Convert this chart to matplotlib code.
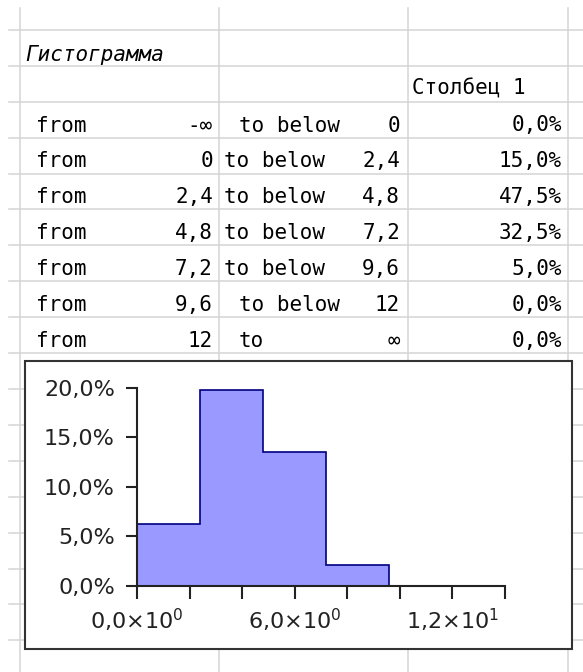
import matplotlib.pyplot as plt
from matplotlib.lines import Line2D
from matplotlib.patches import Rectangle
from matplotlib.ticker import FixedLocator

# - - - - - - - - - - - - - - - - - - - - - - - - - #
# - - - - - - - - - - - Data  - - - - - - - - - - - #
# - - - - - - - - - - - - - - - - - - - - - - - - - #

title = 'Гистограмма'
column_name = 'Столбец 1'

# Bin bounds as written in the table
bin_from = ['-∞', '0', '2,4', '4,8', '7,2', '9,6', '12']
bin_to = ['0', '2,4', '4,8', '7,2', '9,6', '12', '∞']
share_pct = [0.0, 15.0, 47.5, 32.5, 5.0, 0.0, 0.0]

# Numeric edges of the non-empty bins for the chart
edges = [0, 2.4, 4.8, 7.2, 9.6]
bin_pct = [15.0, 47.5, 32.5, 5.0]

y_ticks = [0, 5, 10, 15, 20]
x_major = [0, 6, 12]
x_minor = [2, 4, 8, 10, 14]
x_labels = [r'0,0×$\mathregular{10^{0}}$',
            r'6,0×$\mathregular{10^{0}}$',
            r'1,2×$\mathregular{10^{1}}$']

# - - - - - - - - - - - - - - - - - - - - - - - - - #
# - - - - - - - - -  Layout helpers - - - - - - - - #
# - - - - - - - - - - - - - - - - - - - - - - - - - #

W, H = 583, 672

def px(x):
  return x / W

def py(y):
  return 1 - y / H

def pct_text(v):
  return f'{v:.1f}%'.replace('.', ',')

fig = plt.figure(figsize=(W / 100, H / 100), dpi=100)
fig.patch.set_facecolor('white')

grid_color = '#d4d4d4'
row_h = 35.9

# Spreadsheet grid
for k in range(18):
  y = 30 + row_h * k
  fig.add_artist(Line2D([px(9), px(W)], [py(y), py(y)], color=grid_color, lw=1.1, zorder=-2))
for x in [20, 219, 408, 568]:
  fig.add_artist(Line2D([px(x), px(x)], [py(8), py(H)], color=grid_color, lw=1.1, zorder=-2))

# - - - - - - - - - - - - - - - - - - - - - - - - - #
# - - - - - - - - - - -  Table  - - - - - - - - - - #
# - - - - - - - - - - - - - - - - - - - - - - - - - #

mono = 'DejaVu Sans Mono'
fs = 15

fig.text(px(25), py(61), title, family=mono, style='italic', fontsize=fs, va='baseline')
fig.text(px(412), py(66 + 29), column_name, family=mono, fontsize=fs, va='baseline')

for i in range(len(share_pct)):
  base = 102 + row_h * i + 29.5
  fig.text(px(36), py(base), 'from', family=mono, fontsize=fs, va='baseline')
  fig.text(px(213), py(base), bin_from[i], family=mono, fontsize=fs, va='baseline', ha='right')
  word = 'to' if bin_to[i] == '∞' else 'to below'
  # short bounds get a leading space in the sheet
  x_word = 224 if ',' in bin_to[i] else 239
  fig.text(px(x_word), py(base), word, family=mono, fontsize=fs, va='baseline')
  fig.text(px(400), py(base), bin_to[i], family=mono, fontsize=fs, va='baseline', ha='right')
  fig.text(px(562), py(base), pct_text(share_pct[i]), family=mono, fontsize=fs, va='baseline', ha='right')

# - - - - - - - - - - - - - - - - - - - - - - - - - #
# - - - - - - - - - - -  Chart  - - - - - - - - - - #
# - - - - - - - - - - - - - - - - - - - - - - - - - #

# White chart frame over the grid
fig.add_artist(Rectangle((px(25), py(649)), px(572) - px(25), py(361) - py(649),
                         facecolor='white', edgecolor='#333333', lw=1.5, zorder=-1))

ax = fig.add_axes([px(137), py(585.7), px(505) - px(137), py(387.7) - py(585.7)])
ax.patch.set_visible(False)

# Density: share of values per unit of bin width
heights = [p / (b - a) for p, a, b in zip(bin_pct, edges[:-1], edges[1:])]
ax.stairs(heights, edges, fill=True, facecolor='#9999ff', edgecolor='#000080', lw=1.2)

ax.set_xlim(0, 14)
ax.set_ylim(0, 20)

for side in ['top', 'right']:
  ax.spines[side].set_visible(False)
for side in ['left', 'bottom']:
  ax.spines[side].set_linewidth(1.5)
  ax.spines[side].set_color('#222222')

ax.set_yticks(y_ticks)
ax.set_yticklabels([pct_text(v) for v in y_ticks])
ax.xaxis.set_major_locator(FixedLocator(x_major))
ax.xaxis.set_minor_locator(FixedLocator(x_minor))
ax.set_xticklabels(x_labels)

ax.tick_params(axis='x', which='both', direction='out', length=9.4, width=1.5, color='#222222')
ax.tick_params(axis='x', which='major', labelsize=16, pad=6, labelcolor='#222222')
ax.tick_params(axis='y', direction='out', length=8, width=1.5, color='#222222',
               labelsize=16, pad=8, labelcolor='#222222')

fig.savefig('out.png', dpi=100)
